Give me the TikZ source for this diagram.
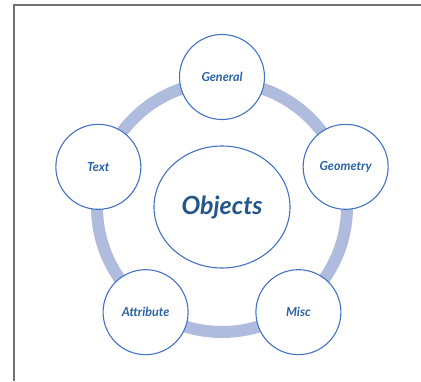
\documentclass[tikz,border=0pt]{standalone}
\usepackage{fontspec}
\setmainfont{Lato}
\usetikzlibrary{shapes.geometric,calc}

\definecolor{ringblue}{RGB}{176,188,222}
\definecolor{edgeblue}{RGB}{68,114,196}
\definecolor{textblue}{RGB}{42,100,164}
\definecolor{framegray}{RGB}{112,112,112}

\tikzset{
  part/.style={circle, draw=edgeblue, line width=1.1pt, fill=white,
    minimum size=85pt, inner sep=0pt, text=textblue,
    font=\fontsize{12.5}{14}\selectfont\bfseries\itshape},
  core/.style={ellipse, draw=edgeblue, line width=1.1pt, fill=white,
    minimum width=136pt, minimum height=122pt, inner sep=0pt, text=textblue!85!black,
    font=\fontsize{25}{28}\selectfont\bfseries\itshape},
}

\begin{document}
\begin{tikzpicture}[x=1pt,y=-1pt]
\useasboundingbox (0,0) rectangle (421,381);
% frame
\draw[framegray, line width=1.3pt] (14,381) -- (14,5) -- (421,5);

\coordinate (mid) at (222,207);
% ring behind the parts
\draw[ringblue, line width=12pt] (mid) circle[radius=125pt];

\node[core] (objects) at (mid) {Objects};

\foreach \name/\ang/\txt in {general/90/General, geometry/18/Geometry,
  misc/-54/Misc, attribute/-126/Attribute, text/162/Text}
  \node[part] (\name) at ($(mid)+(\ang:130pt)$) {\txt};
\end{tikzpicture}
\end{document}
